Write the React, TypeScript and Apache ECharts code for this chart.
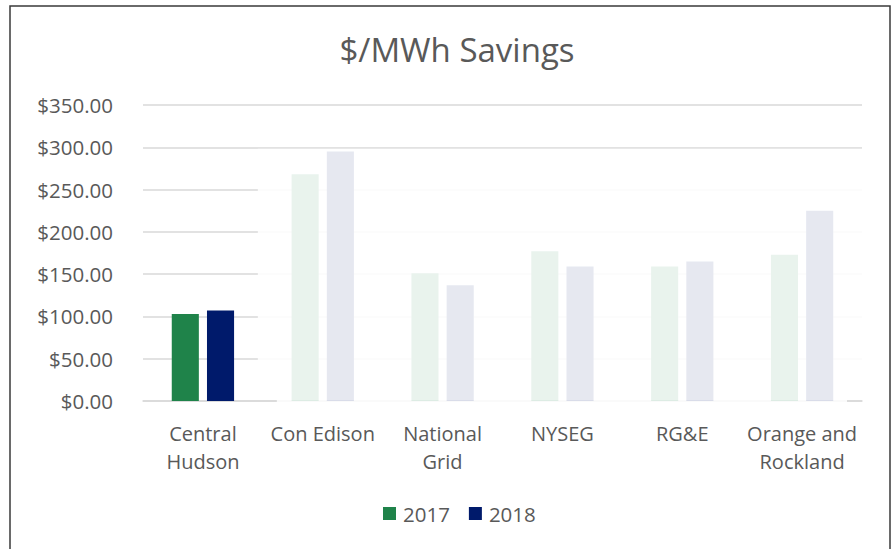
import React, { useEffect, useRef } from "react";
import * as echarts from "echarts";

const categories = ["Central\nHudson", "Con Edison", "National\nGrid", "NYSEG", "RG&E", "Orange and\nRockland"];
const seriesNames = ["2017", "2018"];
const values2017 = [103, 268, 151, 177, 159, 173];
const values2018 = [107, 295, 137, 159, 165, 225];
const colors = ["#1F834A", "#001A6B"];
const yTicks = { min: 0, max: 350, interval: 50 };

const FONT = "'Open Sans', 'Noto Sans', sans-serif";
const TXT = "#595959";

export default function App() {
  const ref = useRef<HTMLDivElement>(null);
  useEffect(() => {
    if (!ref.current) return;
    const chart = echarts.init(ref.current, undefined, { renderer: "svg" });
    chart.setOption({
      animation: false,
      backgroundColor: "#ffffff",
      title: {
        text: "$/MWh Savings",
        left: 452,
        textAlign: "center",
        top: 28,
        textStyle: { fontFamily: FONT, fontSize: 33, fontWeight: "normal", color: TXT },
      },
      legend: {
        top: 503,
        left: 383,
        padding: 0,
        itemWidth: 13,
        itemHeight: 13,
        itemGap: 19,
        icon: "rect",
        textStyle: { fontFamily: FONT, fontSize: 20.5, color: TXT, padding: [0, 0, 0, 2] },
        data: seriesNames,
      },
      grid: { left: 143, right: 30, top: 105, bottom: 148 },
      xAxis: {
        type: "category",
        data: categories,
        axisTick: { show: false },
        axisLine: { lineStyle: { color: "#d9d9d9", width: 1.5 } },
        axisLabel: {
          fontFamily: FONT,
          fontSize: 20,
          color: TXT,
          lineHeight: 28,
          margin: 18,
          interval: 0,
        },
      },
      yAxis: {
        type: "value",
        min: yTicks.min,
        max: yTicks.max,
        interval: yTicks.interval,
        axisLine: { show: false },
        axisTick: { show: false },
        splitLine: { lineStyle: { color: "#d9d9d9", width: 1.5 } },
        axisLabel: {
          fontFamily: FONT,
          fontSize: 20.5,
          color: TXT,
          margin: 30,
          formatter: (v: number) => "$" + v.toFixed(2),
        },
      },
      series: [
        {
          name: seriesNames[0],
          type: "bar",
          data: values2017,
          itemStyle: { color: colors[0] },
          barGap: "30%",
          barCategoryGap: "48%",
        },
        {
          name: seriesNames[1],
          type: "bar",
          data: values2018,
          itemStyle: { color: colors[1] },
        },
      ],
    });

    const p0 = chart.convertToPixel({ xAxisIndex: 0 }, 0) as number;
    const p1 = chart.convertToPixel({ xAxisIndex: 0 }, 1) as number;
    const band = p1 - p0;
    const xStart = p0 + band / 2 - 5;
    const xRight = (chart.convertToPixel({ xAxisIndex: 0 }, categories.length - 1) as number) + band / 2;
    const yTop = (chart.convertToPixel({ yAxisIndex: 0 }, 300) as number) + 1.5;
    const yBot = (chart.convertToPixel({ yAxisIndex: 0 }, 0) as number);

    chart.setOption({
      graphic: [
        {
          type: "rect",
          z: 100,
          silent: true,
          shape: { x: xStart, y: yTop, width: xRight - xStart, height: yBot - 1 - yTop },
          style: { fill: "rgba(255,255,255,0.9)" },
        },
        {
          type: "rect",
          z: 100,
          silent: true,
          shape: { x: xStart + 19, y: yBot - 1, width: xRight - 15 - xStart - 19, height: 3 },
          style: { fill: "rgba(255,255,255,0.85)" },
        },
        {
          type: "rect",
          z: 101,
          silent: true,
          shape: { x: 10, y: 6, width: 880, height: 600 },
          style: { fill: "none", stroke: "#3a3a3a", lineWidth: 1.5 },
        },
      ],
    });

    return () => chart.dispose();
  }, []);
  return (
    <div
      ref={ref}
      style={{ position: "fixed", left: 0, top: 0, width: 892, height: 549 }}
    />
  );
}
